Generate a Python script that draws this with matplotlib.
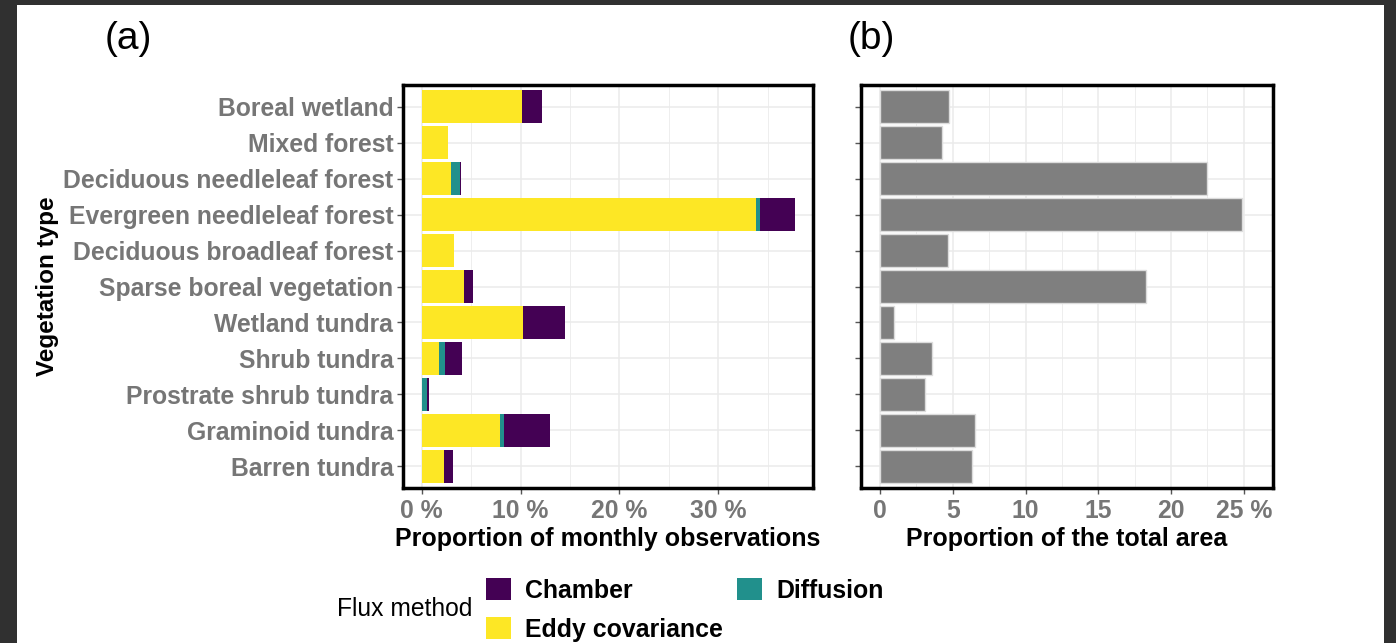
import matplotlib.pyplot as plt
import numpy as np
from matplotlib.patches import Rectangle, Patch

plt.rcParams["font.family"] = ["Liberation Sans", "DejaVu Sans"]

vegetation = [
    "Boreal wetland",
    "Mixed forest",
    "Deciduous needleleaf forest",
    "Evergreen needleleaf forest",
    "Deciduous broadleaf forest",
    "Sparse boreal vegetation",
    "Wetland tundra",
    "Shrub tundra",
    "Prostrate shrub tundra",
    "Graminoid tundra",
    "Barren tundra",
]

# proportion of monthly observations (%), per flux method
eddy = [10.1, 2.7, 3.0, 33.8, 3.25, 4.3, 10.2, 1.7, 0.0, 7.95, 2.3]
diffusion = [0.0, 0.0, 0.9, 0.4, 0.0, 0.0, 0.0, 0.7, 0.5, 0.37, 0.0]
chamber = [2.1, 0.0, 0.1, 3.55, 0.0, 0.85, 4.25, 1.7, 0.25, 4.7, 0.9]

# proportion of the total area (%)
area = [4.76, 4.27, 22.5, 24.9, 4.66, 18.3, 0.98, 3.6, 3.1, 6.5, 6.3]

a_ticks = [0, 10, 20, 30]
a_ticklabels = ["0 %", "10 %", "20 %", "30 %"]
b_ticks = [0, 5, 10, 15, 20, 25]
b_ticklabels = ["0", "5", "10", "15", "20", "25 %"]

c_chamber = "#440154"
c_diffusion = "#21908C"
c_eddy = "#FDE725"
tick_grey = "#767676"
grid_col = "#ebebeb"

W, H = 1396, 643
fig = plt.figure(figsize=(W / 100, H / 100), dpi=100, facecolor="#303030")
fig.patches.append(Rectangle((17 / W, 0), (1384 - 17) / W, (643 - 5) / H,
                             transform=fig.transFigure, facecolor="white",
                             edgecolor="none", zorder=-10))

top = 1 - 85 / H
bot = 1 - 488 / H
ax1 = fig.add_axes([403 / W, bot, (813 - 403) / W, top - bot])
ax2 = fig.add_axes([861 / W, bot, (1273 - 861) / W, top - bot])

y = np.arange(len(vegetation)) + 1
eddy = np.array(eddy)
diffusion = np.array(diffusion)
chamber = np.array(chamber)

ax1.barh(y, eddy, height=0.9, color=c_eddy, zorder=3)
ax1.barh(y, diffusion, left=eddy, height=0.9, color=c_diffusion, zorder=3)
ax1.barh(y, chamber, left=eddy + diffusion, height=0.9, color=c_chamber, zorder=3)

ax2.barh(y, area, height=0.9, color="#7f7f7f", edgecolor="#dcdcdc",
         linewidth=1, zorder=3)


def style(ax, ticks, labels, minor, xlim):
    ax.set_ylim(len(vegetation) + 0.6, 0.4)
    ax.set_xlim(*xlim)
    ax.set_xticks(ticks)
    ax.set_xticklabels(labels)
    ax.set_xticks(minor, minor=True)
    ax.set_yticks(y)
    ax.grid(True, which="major", color=grid_col, linewidth=1.1, zorder=0)
    ax.grid(True, which="minor", axis="x", color=grid_col, linewidth=0.6, zorder=0)
    ax.set_axisbelow(True)
    for s in ax.spines.values():
        s.set_linewidth(2.5)
        s.set_color("black")
    ax.tick_params(axis="both", which="major", length=4, width=1, color="#555555",
                   labelsize=17.8, labelcolor=tick_grey, pad=3)
    ax.tick_params(axis="x", which="minor", length=0)
    ax.tick_params(axis="x", which="major", pad=4)
    for lab in ax.get_xticklabels() + ax.get_yticklabels():
        lab.set_fontweight("bold")


style(ax1, a_ticks, a_ticklabels, [5, 15, 25, 35], (-1.9, 39.6))
ax1.set_yticklabels(vegetation)
for lab in ax1.get_yticklabels():
    lab.set_fontweight("bold")
ax1.set_xlabel("Proportion of monthly observations", fontsize=18,
               fontweight="bold", labelpad=3)
ax1.set_ylabel("Vegetation type", fontsize=17.5, fontweight="bold", labelpad=3)

style(ax2, b_ticks, b_ticklabels, [2.5, 7.5, 12.5, 17.5, 22.5], (-1.3, 27.0))
ax2.set_yticklabels([])
ax2.set_xlabel("Proportion of the total area", fontsize=18,
               fontweight="bold", labelpad=3)

fig.text(105 / W, 1 - 39 / H, "(a)", fontsize=28, va="center", ha="left")
fig.text(848 / W, 1 - 39 / H, "(b)", fontsize=28, va="center", ha="left")

# legend
fig.text(472 / W, 1 - 609 / H, "Flux method", fontsize=17.7, ha="right", va="center")
handles = [
    Patch(facecolor=c_chamber, label="Chamber"),
    Patch(facecolor=c_eddy, label="Eddy covariance"),
    Patch(facecolor=c_diffusion, label="Diffusion"),
]
leg = fig.legend(handles=handles, ncol=2, loc="center left",
                 bbox_to_anchor=(469 / W, 1 - 610 / H), frameon=False,
                 prop={"size": 17.9, "weight": "bold"}, handlelength=1.0,
                 handleheight=1.0, handletextpad=0.57, labelspacing=0.58,
                 columnspacing=0.56, borderpad=0.2)

fig.savefig("out.png", dpi=100, facecolor=fig.get_facecolor())
